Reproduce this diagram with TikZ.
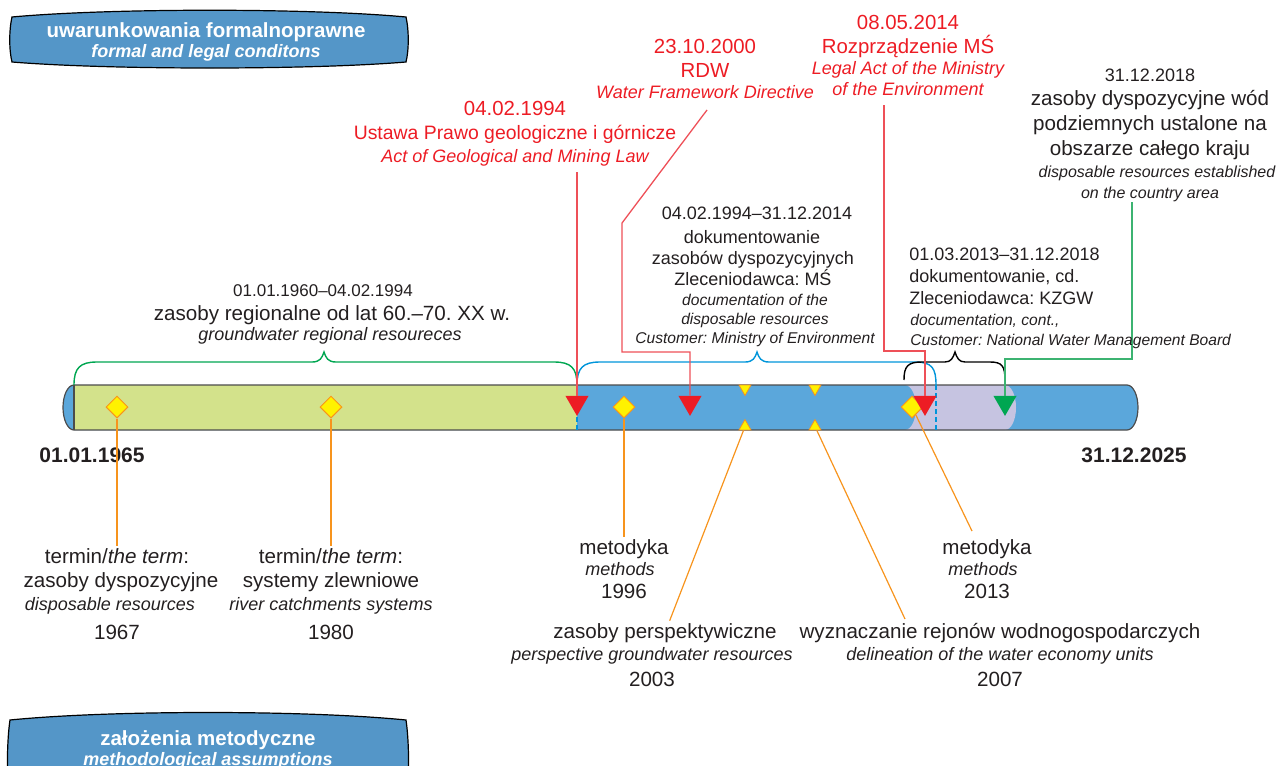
\documentclass[tikz,border=0pt]{standalone}
\usepackage{fontspec}
\setmainfont{Liberation Sans}
\usetikzlibrary{shapes.geometric}

\definecolor{ink}{RGB}{35,31,32}
\definecolor{boxblue}{RGB}{84,150,200}
\definecolor{barblue}{RGB}{91,167,219}
\definecolor{bargreen}{RGB}{211,226,139}
\definecolor{barlav}{RGB}{198,196,225}
\definecolor{lawred}{RGB}{237,28,36}
\definecolor{linered}{RGB}{238,80,88}
\definecolor{markgreen}{RGB}{0,166,81}
\definecolor{linegreen}{RGB}{60,179,113}
\definecolor{braceblue}{RGB}{0,149,218}
\definecolor{mkorange}{RGB}{247,148,29}
\definecolor{mkyellow}{RGB}{255,242,0}

\tikzset{
  lbl/.style={inner sep=1pt, anchor=base, text=ink},
  lbl big/.style={lbl, font=\fontsize{10.3}{12}\selectfont},
  lbl bigit/.style={lbl, font=\fontsize{9}{11}\selectfont\itshape},
  lbl mid/.style={lbl, font=\fontsize{9}{11}\selectfont},
  lbl midit/.style={lbl, font=\fontsize{7.8}{9}\selectfont\itshape},
  lbl red/.style={lbl, text=lawred, font=\fontsize{10.2}{12}\selectfont},
  lbl redit/.style={lbl, text=lawred, font=\fontsize{9}{11}\selectfont\itshape},
  lbl date/.style={lbl, font=\fontsize{10.5}{12}\selectfont\bfseries},
  box title/.style={lbl, text=white, font=\fontsize{10.25}{12}\selectfont\bfseries},
  box sub/.style={lbl, text=white, font=\fontsize{9}{11}\selectfont\bfseries\itshape},
  gem/.style={diamond, draw=mkorange, fill=mkyellow, line width=0.5pt, inner sep=0pt, minimum size=11pt},
  flag/.style={regular polygon, regular polygon sides=3, inner sep=0pt, minimum size=13.3pt, shape border rotate=180},
  notch/.style={regular polygon, regular polygon sides=3, inner sep=0pt, minimum size=6.9pt, draw=mkorange, fill=mkyellow, line width=0.4pt},
  lead/.style={draw=mkorange, line width=0.6pt},
  lawline/.style={draw=linered, line width=0.65pt},
  bracket/.style={line width=0.7pt},
}

\begin{document}
\frenchspacing
\begin{tikzpicture}[x=0.5pt, y=-0.5pt]
\useasboundingbox (0,0) rectangle (1281,766);

% header boxes
\filldraw[fill=boxblue, draw=black, line width=0.6pt] (12,17) .. controls (110,8) and (310,8) .. (406,17) .. controls (409,30) and (409,50) .. (406,62) .. controls (310,70) and (110,70) .. (12,62) .. controls (9,50) and (9,30) .. (12,17) -- cycle;
\node[box title] (hdr1) at (206,37) {uwarunkowania formalnoprawne};
\node[box sub] (hdr1s) at (206,57) {formal and legal conditons};

\filldraw[fill=boxblue, draw=black, line width=0.6pt] (10,720) .. controls (110,710) and (306,710) .. (406,720) .. controls (409,740) and (409,770) .. (408,790) -- (8,790) .. controls (7,770) and (7,740) .. (10,720) -- cycle;
\node[box title] (hdr2) at (208,745) {założenia metodyczne};
\node[box sub] (hdr2s) at (208,765) {methodological assumptions};

% time bar
\fill[barblue] (74,385) -- (1127,385) .. controls (1133.1,385) and (1138,395.1) .. (1138,407.5) .. controls (1138,419.9) and (1133.1,430) .. (1127,430) -- (74,430) .. controls (67.9,430) and (63,419.9) .. (63,407.5) .. controls (63,395.1) and (67.9,385) .. (74,385) -- cycle;
\fill[bargreen] (74,385) rectangle (577,430);
\fill[barlav] (905,385) -- (1005,385) .. controls (1011.1,385) and (1016,395.1) .. (1016,407.5) .. controls (1016,419.9) and (1011.1,430) .. (1005,430) -- (905,430) .. controls (911.1,430) and (916,419.9) .. (916,407.5) .. controls (916,395.1) and (911.1,385) .. (905,385) -- cycle;
\draw[gray!60!black, line width=0.6pt] (74,385) -- (1127,385) .. controls (1133.1,385) and (1138,395.1) .. (1138,407.5) .. controls (1138,419.9) and (1133.1,430) .. (1127,430) -- (74,430) .. controls (67.9,430) and (63,419.9) .. (63,407.5) .. controls (63,395.1) and (67.9,385) .. (74,385);
\draw[gray!60!black, line width=0.6pt] (74,385) -- (74,430);
\draw[braceblue, line width=0.6pt, dash pattern=on 2.5pt off 1.5pt] (577,385) -- (577,430);
\draw[braceblue, line width=0.6pt, dash pattern=on 2.5pt off 1.5pt] (936,385) -- (936,430);

% braces
\draw[bracket, markgreen] (74,385) .. controls (74,368) and (80,362) .. (97,362) -- (312,362) .. controls (320,362) and (322,358) .. (324,352) .. controls (326,358) and (328,362) .. (336,362) -- (554,362) .. controls (571,362) and (577,368) .. (577,385);
\draw[bracket, braceblue] (577,385) .. controls (577,368) and (583,362) .. (600,362) -- (745,362) .. controls (753,362) and (755,358) .. (757,352) .. controls (759,358) and (761,362) .. (769,362) -- (915,362) .. controls (932,362) and (936,368) .. (936,385);
\draw[bracket, black] (904,380) .. controls (904,366) and (908,362) .. (922,362) -- (945,362) .. controls (951,362) and (953,358) .. (955,352) .. controls (957,358) and (959,362) .. (965,362) -- (990,362) .. controls (1002,362) and (1005,366) .. (1005,380);

% markers
\node[gem] (g67) at (117,407) {};
\node[gem] (g80) at (331,407) {};
\node[gem] (g96) at (624,407) {};
\node[gem] (g13) at (912,407) {};
\node[flag, fill=lawred] (rt94) at (577,402.6) {};
\node[flag, fill=lawred] (rt00) at (690,402.6) {};
\node[flag, fill=lawred] (rt14) at (925,402.6) {};
\node[flag, fill=markgreen] (gt18) at (1005,402.6) {};
\node[notch, shape border rotate=180] (n03t) at (745,388.5) {};
\node[notch] (n03) at (745,426.5) {};
\node[notch, shape border rotate=180] (n07t) at (815,388.5) {};
\node[notch] (n07) at (815,426.5) {};

\node[lbl date] (d65) at (92,462) {01.01.1965};
\node[lbl date] (d25) at (1134,462) {31.12.2025};

% legal acts
\node[lbl red] (law1) at (515,115) {04.02.1994};
\node[lbl red, font=\fontsize{9.7}{12}\selectfont] (law2) at (515,139) {Ustawa Prawo geologiczne i górnicze};
\node[lbl redit] (law3) at (515,162) {Act of Geological and Mining Law};
\node[lbl red] (rdw1) at (705,53) {23.10.2000};
\node[lbl red] (rdw2) at (705,77) {RDW};
\node[lbl redit] (rdw3) at (705,98) {Water Framework Directive};
\node[lbl red] (ms1) at (908,29) {08.05.2014};
\node[lbl red] (ms2) at (908,53) {Rozprządzenie MŚ};
\node[lbl redit] (ms3) at (908,74) {Legal Act of the Ministry};
\node[lbl redit] (ms4) at (908,95) {of the Environment};

\coordinate (lawtop) at (577,172);
\coordinate (rdwtop) at (707,110);
\coordinate (mstop) at (884,105);
\draw[lawline] (lawtop) -- (rt94);
\draw[lawline] (rdwtop) -- ++(-85,113) -- ++(0,129) -| (rt00);
\draw[lawline] (mstop) -- ++(0,246) -| (rt14);

% country-wide resources
\node[lbl mid] (cr1) at (1150,81) {31.12.2018};
\node[lbl big] (cr2) at (1150,105) {zasoby dyspozycyjne wód};
\node[lbl big] (cr3) at (1150,130) {podziemnych ustalone na};
\node[lbl big] (cr4) at (1150,155) {obszarze całego kraju};
\node[lbl midit, font=\fontsize{8}{9}\selectfont\itshape] (cr5) at (1157,177) {disposable resources established};
\node[lbl midit, font=\fontsize{8}{9}\selectfont\itshape] (cr6) at (1150,198) {on the country area};
\coordinate (grtop) at (1132,202);
\draw[draw=linegreen, line width=0.65pt] (grtop) -- ++(0,157) -| (gt18);

% documentation periods
\node[lbl mid] (dm1) at (757,219) {04.02.1994–31.12.2014};
\node[lbl mid] (dm2) at (752,243) {dokumentowanie};
\node[lbl mid] (dm3) at (753,264) {zasobów dyspozycyjnych};
\node[lbl mid] (dm4) at (753,285) {Zleceniodawca: MŚ};
\node[lbl midit] (dm5) at (755,305) {documentation of the};
\node[lbl midit] (dm6) at (755,324) {disposable resources};
\node[lbl midit] (dm7) at (755,343) {Customer: Ministry of Environment};

\node[lbl mid, anchor=base west] (dk1) at (907,260) {01.03.2013–31.12.2018};
\node[lbl mid, anchor=base west] (dk2) at (907,282) {dokumentowanie, cd.};
\node[lbl mid, anchor=base west] (dk3) at (907,304) {Zleceniodawca: KZGW};
\node[lbl midit, anchor=base west] (dk4) at (908,325) {documentation, cont.,};
\node[lbl midit, anchor=base west] (dk5) at (908,345) {Customer: National Water Management Board};

\node[lbl, font=\fontsize{8.5}{10}\selectfont] (rg1) at (323,296) {01.01.1960–04.02.1994};
\node[lbl big] (rg2) at (332,320) {zasoby regionalne od lat 60.–70. XX w.};
\node[lbl bigit] (rg3) at (330,340) {groundwater regional resoureces};

% methodological milestones
\node[lbl big] (t67a) at (117,563) {termin/\textit{the term}:};
\node[lbl big] (t67b) at (121,587) {zasoby dyspozycyjne};
\node[lbl bigit] (t67c) at (110,610) {disposable resources};
\node[lbl big] (t67d) at (117,639) {1967};
\node[lbl big] (t80a) at (331,563) {termin/\textit{the term}:};
\node[lbl big] (t80b) at (331,587) {systemy zlewniowe};
\node[lbl bigit] (t80c) at (331,610) {river catchments systems};
\node[lbl big] (t80d) at (331,639) {1980};
\node[lbl big] (m96a) at (624,554) {metodyka};
\node[lbl bigit] (m96b) at (620,575) {methods};
\node[lbl big] (m96c) at (624,598) {1996};
\node[lbl big] (m13a) at (987,554) {metodyka};
\node[lbl bigit] (m13b) at (983,575) {methods};
\node[lbl big] (m13c) at (987,598) {2013};
\node[lbl big] (p03a) at (665,638) {zasoby perspektywiczne};
\node[lbl bigit] (p03b) at (652,660) {perspective groundwater resources};
\node[lbl big] (p03c) at (652,686) {2003};
\node[lbl big] (w07a) at (1000,638) {wyznaczanie rejonów wodnogospodarczych};
\node[lbl bigit] (w07b) at (1000,660) {delineation of the water economy units};
\node[lbl big] (w07c) at (1000,686) {2007};

\coordinate (w07top) at (905,619);
\coordinate (m13top) at (972,531);
\draw[lead] (g67) -- (t67a);
\draw[lead] (g80) -- (t80a);
\draw[lead] (g96) -- (m96a);
\draw[lead] (n03) -- (p03a);
\draw[lead] (n07) -- (w07top);
\draw[lead] (g13) -- (m13top);
\end{tikzpicture}
\end{document}
